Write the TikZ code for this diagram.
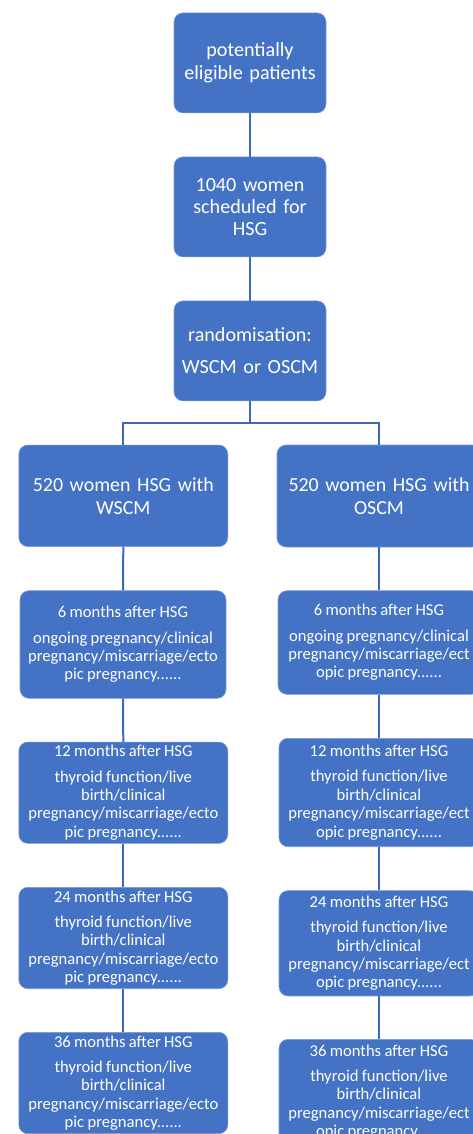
\documentclass[tikz,border=0pt]{standalone}
\usepackage{fontspec}
\setmainfont{Carlito}
\definecolor{boxblue}{HTML}{4472C4}
\definecolor{lineblue}{HTML}{3F69B8}
\definecolor{edgeblue}{HTML}{7A9AD6}
\newcommand{\hd}[1]{{\fontsize{16.6}{18.4}\selectfont #1\par}\vspace{7pt}}
\newcommand{\bd}[1]{{\fontsize{16.6}{18.4}\selectfont #1\par}}
\begin{document}
\begin{tikzpicture}[x=1pt,y=-1pt,
  box/.style={draw=edgeblue, line width=0.6pt, fill=boxblue, rounded corners=9pt, text=white,
    inner sep=0pt, align=center},
  conn/.style={draw=lineblue, line width=2pt}]
\useasboundingbox (0,0) rectangle (473,1134);
\clip (0,0) rectangle (473,1134);
% top column
\node[box, minimum width=152pt, minimum height=100pt, text width=150pt,
  font=\fontsize{20.1}{22.3}\selectfont] (t1) at (250,62.9) {potentially\\eligible patients};
\node[box, minimum width=152pt, minimum height=100pt, text width=150pt,
  font=\fontsize{20.1}{22.3}\selectfont] (t2) at (250,206.9) {1040 women\\scheduled for\\HSG};
\node[box, minimum width=152pt, minimum height=100pt, text width=150pt,
  font=\fontsize{20.1}{22.3}\selectfont] (t3) at (250,350.9) {randomisation:\\[10pt]WSCM or OSCM};
% arms
\node[box, minimum width=209pt, minimum height=101.5pt, text width=200pt,
  font=\fontsize{19.9}{23}\selectfont] (l0) at (123.3,495.8) {520 women HSG with\\WSCM\\[12pt]};
\node[box, minimum width=204pt, minimum height=102pt, text width=200pt,
  font=\fontsize{19.9}{23}\selectfont] (r0) at (379,496) {520 women HSG with\\OSCM\\[12pt]};
% left follow-ups
\node[box, minimum width=206pt, minimum height=107.6pt, text width=200pt] (l1) at (123,644.5)
  {\hd{6 months after HSG}\bd{ongoing pregnancy/clinical\\pregnancy/miscarriage/ecto\\pic pregnancy......}};
\node[box, minimum width=209pt, minimum height=101.3pt, text width=200pt] (l2) at (123.3,792.7)
  {\hd{12 months after HSG}\bd{thyroid function/live\\birth/clinical\\pregnancy/miscarriage/ecto\\pic pregnancy......}};
\node[box, minimum width=209pt, minimum height=101.4pt, text width=200pt] (l3) at (123.3,938)
  {\hd{24 months after HSG}\bd{thyroid function/live\\birth/clinical\\pregnancy/miscarriage/ecto\\pic pregnancy......}};
\node[box, minimum width=209pt, minimum height=101.4pt, text width=200pt] (l4) at (123.3,1083)
  {\hd{36 months after HSG}\bd{thyroid function/live\\birth/clinical\\pregnancy/miscarriage/ecto\\pic pregnancy......}};
% right follow-ups
\node[box, minimum width=202pt, minimum height=103.6pt, text width=198pt] (r1) at (379,642.5)
  {\hd{6 months after HSG}\bd{ongoing pregnancy/clinical\\pregnancy/miscarriage/ect\\opic pregnancy......}};
\node[box, minimum width=200pt, minimum height=108.4pt, text width=198pt] (r2) at (379,792.5)
  {\hd{12 months after HSG}\bd{thyroid function/live\\birth/clinical\\pregnancy/miscarriage/ect\\opic pregnancy......}};
\node[box, minimum width=200pt, minimum height=105.3pt, text width=198pt] (r3) at (379,943.3)
  {\hd{24 months after HSG}\bd{thyroid function/live\\birth/clinical\\pregnancy/miscarriage/ect\\opic pregnancy......}};
\node[box, minimum width=200pt, minimum height=105.3pt, text width=198pt] (r4) at (379,1092)
  {\hd{36 months after HSG}\bd{thyroid function/live\\birth/clinical\\pregnancy/miscarriage/ect\\opic pregnancy......}};
% connectors
\coordinate (j) at (250,422.7);
\draw[conn] (t1.south) -- (t2.north);
\draw[conn] (t2.south) -- (t3.north);
\draw[conn] (t3.south) -- (j);
\draw[conn] (j) -| (l0.north);
\draw[conn] (j) -| (r0.north);
\draw[conn] (l0.south) -- (l1.north);
\draw[conn] (l1.south) -- (l2.north);
\draw[conn] (l2.south) -- (l3.north);
\draw[conn] (l3.south) -- (l4.north);
\draw[conn] (r0.south) -- (r1.north);
\draw[conn] (r1.south) -- (r2.north);
\draw[conn] (r2.south) -- (r3.north);
\draw[conn] (r3.south) -- (r4.north);
\end{tikzpicture}
\end{document}
